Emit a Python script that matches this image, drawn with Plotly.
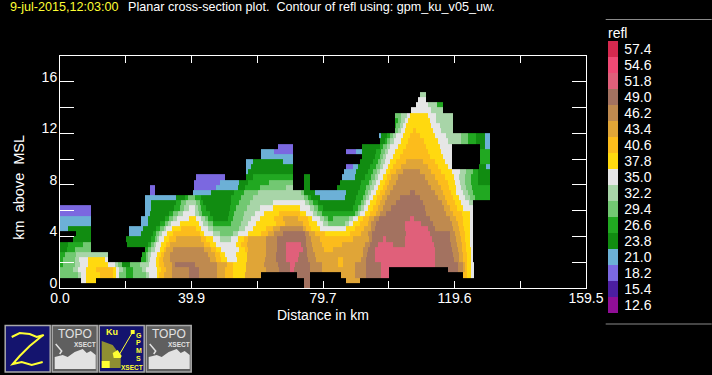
import re
import plotly.graph_objects as go

# Reflectivity levels (dBZ), lowest to highest, with their colours
LEVELS = [12.6, 15.4, 18.2, 21.0, 23.8, 26.6, 29.4, 32.2, 35.0, 37.8, 40.6, 43.4, 46.2, 49.0, 51.8, 54.6, 57.4]
LEVEL_KEYS = "abcdefghijklmnopq"
COLORS = ["#900e96", "#4c1ea0", "#7b68e0", "#6cb0d6", "#118c11", "#21a821", "#72c872", "#a8d5a8", "#e6e6e6",
          "#ffd90f", "#fcbc1c", "#e0a537", "#bf8a4f", "#a37260", "#e0607a", "#f04a75", "#d6294f"]

# Height layer edges (km MSL); one band description per layer
HEIGHT_EDGES = [0.0, 0.4, 0.8, 1.2, 1.6, 2.0, 2.4, 2.8, 3.2, 3.6, 4.0, 4.4, 4.8, 5.2, 5.6, 6.0, 6.4, 6.8, 7.2, 7.6,
                8.0, 8.4, 8.8, 9.2, 9.6, 10.0, 10.4, 10.8, 11.2, 11.6, 12.0, 12.4, 12.8, 13.2, 13.6, 14.0, 14.4, 14.8, 15.2]

# Each string: "<distance km><level key>" = level from that distance on; "." = no echo
BANDS = [
 "0. 74n 75.7.",
 "6.5i 8j 11. 74n 75.7. 86.8l 90.9.",
 "0g 5.5h 6.5i 8j 12k 16j 17i 18g 20f 22g 26h 27i 29.5j 30k 31.5l 34m 39n 42m 47.5l 50k 52.5j 56l 61. 72n 75.7. 85.3l 89.4m 92.9n 97.2o 99.8. 122.2k 123.5j 124.7i 125.4.",
 "0g 4h 5.5i 8j 11k 16j 17i 18h 19g 20f 22g 25h 26i 29.5j 30.5k 32l 34m 39n 42m 47.5l 50k 52.5j 56.5l 62.5m 66.5n 69.8o 71.1n 75.7m 79.3l 89.4m 92.9n 97.2o 99.8. 117.7n 120.7m 122.2l 122.9k 123.5j 124.7i 125.4.",
 "0f 1g 4.5h 6i 8.5j 14.5i 16.7h 17.7g 18.7e 21.2g 24.3h 27i 29j 30k 31.5l 34m 35n 41m 47.5l 50.5k 52.5j 56.5l 62m 66n 69.6o 71.3n 75.7m 79.5l 84.3k 85.8l 89.4m 92.9n 97.2o 113.6n 120.7m 122.2l 122.9k 123.5j 124.7i 125.4.",
 "0f 0.9g 4.4h 5.8i 8.5j 13.6i 14.7. 24.6f 26g 26.6h 27.4i 29.2j 30k 31.2l 33.4m 45.4l 47.4k 48.9j 50.6i 53.6j 56.7l 62.3m 65.6n 68.6o 72.1n 75.2m 77.7l 84.3k 85.8l 91.4m 92.9n 95.4o 113.6n 119.4m 121l 122.2k 123.4j 124.6i 125.2.",
 "0f 1.4g 5h 14.7. 24.9f 26g 26.8h 27.5i 29.5j 30.5k 31.5l 33.4m 44.8l 46.9k 48.4j 49.9i 53.4j 56.7l 62.5m 65.6n 68.4o 72.6n 74.9m 77.2l 91.9m 93.2n 95.4o 113.6n 119.2m 120.9l 122.2k 123.4j 124.6i 125.2.",
 "0e 2f 4.5g 9.5. 25.7f 26.7g 27.7h 28.7i 30.2j 31.4k 32.2l 34.2m 43.8l 45.9k 47.4j 48.9i 54.2j 56k 57l 62.5m 65.8n 68.4o 73.6n 74.9m 76.7l 80k 82.8l 91.9m 93.4n 95.4o 113.6n 119m 120.7l 122k 123.2j 124.5i 125.2.",
 "0e 2.4f 7g 9.5. 20.3e 26.7f 27.7g 28.4h 29.2i 30.7j 32k 33.4l 43.8k 45.4j 47.4i 53.4j 54.9k 56.7l 62.5m 65.8n 68.6o 73.1n 74.7m 76.5l 79.3k 85.6l 92.4m 93.9n 96.4o 101n 104.5o 113.4n 118.7m 120.4l 121.9k 123j 124.4i 125.2.",
 "3.9e 9.5. 19.9e 27.7f 28.7g 29.4h 30i 31.4j 33.2k 35.3l 42.8k 44.3j 46.4i 48.4h 51.9i 54.1j 55.7k 57l 62.5m 65.8n 74.7m 76.2l 78.8k 88.9l 93.7m 94.5n 98o 98.8n 104.5o 112.9n 118.4m 120.2l 121.7k 122.9j 124.4i 125.2.",
 "4.7e 9.5. 20.9d 24.6e 28.2f 29.2g 30h 31i 32.4j 34.4k 42.3j 43.8i 46.4h 48.4g 52.4h 53.9i 57j 61k 63l 65m 67.6n 74.2m 75.5l 77.2k 80.3j 87.9k 91.2l 93.4m 94.7n 105o 112.3n 118.2m 119.7l 121.4k 122.7j 124.2i 125.2.",
 "0d 2.4e 9.5. 20.9d 25.2e 29.2f 30.4g 31.4h 32.2i 34j 36.8k 41.3j 42.8i 44.8h 46.4g 54.4h 56i 58.5j 62.5k 64.5l 66.6m 73.7l 74.7k 76.2j 78.8i 86.8j 89.4k 92.1l 94.2m 95.4n 104.5o 111.6n 113.6m 119.2l 121k 122.4j 124.2i 125.2.",
 "0d 9.5. 24.6d 26.7e 30.2f 31.7g 32.7h 33.7i 36.3j 42.1i 43.5h 44.9g 46.4f 51.9g 54.9h 57i 59.5j 65.6k 68.2l 73.7k 75.5j 77.8i 79.8h 81.3g 86.3h 87.5i 88.7j 90.9k 93.4l 94.4m 95.7n 104.5o 109.6n 113.1m 118.9l 120.7k 122.2j 124.2i 125.2.",
 "0d 9.5. 24.6d 26.7e 31.7f 33g 34.2h 35.5i 39j 41.3i 42.8h 44g 44.8f 46.4e 50.9f 52.6g 55.5h 58i 60.5j 65k 67.6l 72.1k 75.2j 76.5i 78.8h 80g 81.3f 82.8g 87.7h 88.9i 90.4j 91.9k 93.7l 95.1m 96.7n 106o 107.2n 112.1m 118.2l 120k 122.2j 124.2i 125.2.",
 "0c 9.5. 25.9d 27.2e 33.2f 34.4g 35.8h 37.3i 41h 42.2g 43.2f 45.4e 51.2f 52.9g 55.9h 59i 62j 66.5k 72.7j 74.7i 76.7h 77.9g 79.3f 89.4g 90.4h 91.1i 92.4j 94.1k 95.7l 97m 99n 111.1m 117.1l 119.2k 122j 124.2i 125.2.",
 "0c 9.5. 25.7d 27.7e 34.7f 36.3g 37.5h 39i 40.8h 41.8g 42.8f 44.3e 51.4f 53.4g 56.7h 60.5i 64.5j 72.7i 75.7h 76.9g 78.3f 79.8e 88.9f 90.4g 91.2h 92.1i 93.4j 94.9k 96.4l 98m 100.5n 110.6m 116.3l 118.4k 120.4j 122.2i 125.2.",
 "25.7d 27.7e 35.3f 36.8g 38.3h 41.3g 42.3f 43.3e 51.9f 54.2g 57.5h 64.5i 74.2h 75.5g 76.7f 78.2e 89.4f 91.4g 92.1h 92.9i 94.1j 95.7k 97l 98.5m 102n 110.1m 115.9l 117.3k 119.7j 121.7i 124h 125.2.",
 "25.7d 35.3e 37.8f 38.8g 40.8f 42.8e 51.9f 55g 58.5h 73.9g 75.2f 76.2e 78.8d 86.3e 89.9f 91.9g 92.7h 93.6i 94.9j 96.1k 97.7l 99.2m 103n 109.1m 114.6l 116.6k 119.2j 121i 122.7h 124.2g 125.7f 130.3.",
 "27.2c 28.9. 40.3d 45.9e 52.9f 55.7g 60h 73g 73.9e 77.2d 86.8e 90.4f 92.4g 93.4h 94.4i 95.7j 97k 98.5l 100m 106n 107.5m 113.6l 116.1k 118.7j 120.2i 122.2h 123.7g 125.2f 130.3.",
 "27.2c 28.9. 40.5c 47.4d 53.9e 56f 60.5g 68.5h 70.8. 73.9e 75.7. 84e 90.9f 92.9g 94.1h 95.1i 96.4j 98k 99.2l 101m 112.6l 115.6k 118j 120i 121.7h 123.2g 125f 130.3.",
 "40.5c 48.4d 54.4e 57f 63.5g 70.8. 73.9e 75.7. 84.8e 91.4f 93.6g 94.7h 95.7i 97.1j 98.5k 99.8l 102m 111.6l 114.6k 117.7j 119.7i 121.2h 122.7g 124.7f 126.7e 130.3.",
 "41.3c 49.9. 56.3e 58.5f 70.8. 73.9e 75.7. 85.6d 89.4e 92.4f 94.4g 95.4h 96.4i 98j 99.2k 100.5l 102.5m 110.6l 113.6k 116.6j 119.4i 121h 122.7g 124.7f 126.7e 130.3.",
 "56.3d 57e 70.8. 86d 89.9e 93.4f 94.9g 96.1h 97.1i 98.8j 100k 102l 104m 109.1l 112.6k 115.6j 119i 121.2h 123g 125.2f 126.7e 130.3.",
 "56.3d 58e 70.8. 86.8c 88.9d 90.4e 94.1f 95.7g 97h 98i 99.5j 101k 103.5l 111.6k 114.6j 117.7i 119. 127e 129.3d 130.3.",
 "56.3d 58.5e 67.5d 70.8. 91e 94.9f 96.4g 97.4h 98.5i 100.2j 102k 105l 110.1k 113.6j 116.6i 119. 127.3f 130.3.",
 "61d 70.8. 91.7e 95.4f 96.9g 98h 99i 101j 103k 112.1j 116.1i 119. 127.3f 130.3.",
 "61d 65c 70.8. 86.8c 89.9d 91.7e 95.9f 97.4g 98.5h 99.5i 101.5j 104k 111.6j 115.6i 119. 127.3f 130.3.",
 "66c 70.8. 91.7e 97f 98g 99.2h 100.2i 102.5j 105k 111.1j 115.1i 119. 127.3e 128.8d 130.3.",
 "96.9e 98.5f 99.2g 100.2h 101.2i 103.5j 105.5k 110.3j 114.6i 117.7h 121.7g 123.7f 126.2e 128.8d 130.3.",
 "96.6d 97.4e 99.2f 100g 101h 102i 104j 106k 109.1j 113.6i 117.1h 121.7g 123.7f 126.2e 128.8d 130.3.",
 "101.5g 102.5h 103.5i 104.5j 107k 108j 113.1i 115.6h 119.2.",
 "101.5f 102g 103h 104i 105j 112.6i 115.1h 119.2.",
 "101.5f 102.5g 103.5h 104.5i 105.5j 112.1i 114.1h 119.2.",
 "101.5g 103.5h 105.2i 106.2j 111.6i 114.1h 119.2.",
 "106.5i 112.6h 116.1.",
 "108.1i 111.6h 114.2f 116.1.",
 "108.6i 111.1.",
 "109.3h 111.1.",
]

X_TICKS = [0.0, 19.94, 39.875, 59.8, 79.75, 99.7, 119.6, 139.6, 159.5]
X_LABELS = ["0.0", "", "39.9", "", "79.7", "", "119.6", "", "159.5"]
Y_TICKS = [0, 2, 4, 6, 8, 10, 12, 14, 16]
Y_LABELS = ["0", "", "4", "", "8", "", "12", "", "16"]

# --- decode the band strings into a value grid
parsed = [[(float(a), b) for a, b in re.findall(r"(\d+(?:\.\d+)?)([a-q.])", row)] for row in BANDS]
x_edges = sorted({d for row in parsed for d, _ in row} | {0.0})
z = []
for row in parsed:
    vals = []
    for left in x_edges[:-1]:
        key = "."
        for d, k in row:
            if d <= left:
                key = k
        vals.append(None if key == "." else LEVELS[LEVEL_KEYS.index(key)])
    z.append(vals)

step = LEVELS[1] - LEVELS[0]
zmin, zmax = LEVELS[0] - step / 2, LEVELS[-1] + step / 2
scale = []
n = len(COLORS)
for i, c in enumerate(COLORS):
    scale += [[i / n, c], [(i + 1) / n, c]]

# --- page geometry (pixels)
W, H = 712, 375
L, R, T, B = 60.3, 586.3, 56.0, 288.0
PW, PH = R - L, B - T
def X(p): return (p - L) / PW
def Y(p): return (B - p) / PH
FONT = "Liberation Sans"

fig = go.Figure(go.Heatmap(
    x=x_edges, y=HEIGHT_EDGES, z=z, zmin=zmin, zmax=zmax, colorscale=scale, hoverongaps=False,
    colorbar=dict(
        tickmode="array", tickvals=LEVELS, ticktext=[f"{v:.1f}" for v in LEVELS],
        thickness=10, lenmode="pixels", len=272, y=Y(177), yanchor="middle",
        x=X(608), xanchor="left", xpad=0, ypad=0, outlinewidth=0,
        ticks="outside", ticklen=4, tickcolor="black", tickfont=dict(family=FONT, size=14, color="white"),
    ),
))

ann = []
def text(x, y, s, color="white", size=14, anchor="left", angle=0, bold=False):
    ann.append(dict(x=X(x), y=Y(y), xref="paper", yref="paper", text=f"<b>{s}</b>" if bold else s, showarrow=False,
                    xanchor=anchor, yanchor="middle", textangle=angle, align="left",
                    font=dict(family=FONT, size=size, color=color), borderpad=0, borderwidth=0))

text(10, 7, "9-jul-2015,12:03:00", "#ffff33", 12.6)
text(128, 7, "Planar cross-section plot.\u00a0\u00a0Contour of refl using: gpm_ku_v05_uw.", "white", 12.6)
text(323, 315, "Distance in km", anchor="center")
text(19, 187, "km\u00a0\u00a0above\u00a0\u00a0MSL", size=14.5, anchor="center", angle=-90)
text(608, 33, "refl", size=14)

shapes = []
def line(x0, y0, x1, y1, color="#8a8a8a", width=1):
    shapes.append(dict(type="line", xref="paper", yref="paper", x0=X(x0), y0=Y(y0), x1=X(x1), y1=Y(y1),
                       line=dict(color=color, width=width)))
def box(x0, y0, x1, y1, fill, border="#a9a9a9", width=1.5):
    shapes.append(dict(type="rect", xref="paper", yref="paper", x0=X(x0), y0=Y(y0), x1=X(x1), y1=Y(y1),
                       fillcolor=fill, line=dict(color=border, width=width)))
def path(pts, fill=None, color=None, width=1):
    d = "M" + " L".join(f"{X(a):.5f},{Y(b):.5f}" for a, b in pts) + (" Z" if fill else "")
    shapes.append(dict(type="path", xref="paper", yref="paper", path=d, fillcolor=fill,
                       line=dict(color=color or "rgba(0,0,0,0)", width=width if color else 0)))

line(606, 19.5, 712, 19.5)
line(606, 324, 712, 324)

# Z icon
box(5.5, 325.5, 50.5, 372, "#14146e")
path([(12, 337), (20, 333), (30, 334), (37, 337), (44, 335), (41, 337), (30, 346), (20, 356), (13, 364),
      (22, 362), (32, 365), (43, 362)], None, "#ffff33", 2)

# TOPO icons
for dx in (0, 94):
    box(52.5 + dx, 325.5, 97.5 + dx, 372, "#5f5f5f")
    path([(55 + dx, 369), (55 + dx, 357), (63 + dx, 355), (68 + dx, 357), (75 + dx, 352), (83 + dx, 349),
          (87 + dx, 353), (91 + dx, 351), (96 + dx, 355), (96 + dx, 369)], "#e2e2e2")
    text(75 + dx, 334, "TOPO", "#e2e2e2", 12, anchor="center")
    text(85 + dx, 344, "XSECT", "#e2e2e2", 6.5, anchor="center", bold=True)
    path([(56 + dx, 344), (62 + dx, 351), (60 + dx, 354)], None, "#e2e2e2", 1.5)

# GPM icon
box(99.5, 325.5, 144.5, 372, "#14146e")
path([(102, 368), (102, 341), (113, 345), (121, 356), (121, 368)], "#8f8f32")
path([(102, 368), (110, 368), (110, 361), (102, 361)], "#ffff33")
path([(113, 353), (118, 350), (122, 356), (121, 358), (114, 358)], "#ffff33")
path([(120, 354), (133, 332)], None, "#ffff33", 1)
path([(132, 331), (134, 331), (134, 333), (132, 333)], "#ffff33", "#ffff33", 2)
text(112, 332, "Ku", "#ffff33", 9, anchor="center", bold=True)
for ch, yy in zip("GPMS", (335, 342, 350, 358)):
    text(139, yy, ch, "#ffff33", 7, anchor="center", bold=True)
text(132, 367, "XSECT", "#ffff33", 6.5, anchor="center", bold=True)

fig.update_layout(
    width=W, height=H, paper_bgcolor="black", plot_bgcolor="black",
    margin=dict(l=L, r=W - R, t=T, b=H - B, pad=0, autoexpand=False),
    font=dict(family=FONT, color="white"), annotations=ann, shapes=shapes,
    xaxis=dict(range=[0, 159.5], tickmode="array", tickvals=X_TICKS, ticktext=X_LABELS, ticks="inside", ticklen=7,
               tickcolor="white", tickwidth=1, showline=True, linecolor="white", linewidth=1, mirror="ticks",
               showgrid=False, zeroline=False, tickfont=dict(family=FONT, size=14, color="white"), ticklabelstandoff=-3),
    yaxis=dict(range=[0, 18], tickmode="array", tickvals=Y_TICKS, ticktext=Y_LABELS, ticks="inside", ticklen=14,
               tickcolor="white", tickwidth=1, showline=True, linecolor="white", linewidth=1, mirror="ticks",
               showgrid=False, zeroline=False, tickfont=dict(family=FONT, size=14, color="white"),
               ticklabelshift=-5, ticklabelstandoff=-1),
)
fig.write_html("out.html", config=dict(displayModeBar=False),
               post_script="document.body.style.margin='0';document.body.style.background='black';")
